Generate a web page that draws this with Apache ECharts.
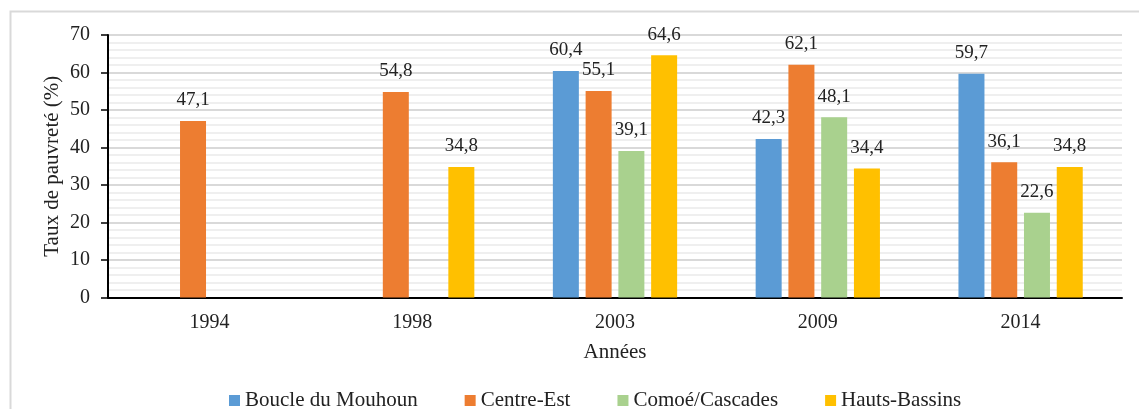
<!DOCTYPE html>
<html>
<head>
<meta charset="utf-8">
<script src="https://cdn.jsdelivr.net/npm/echarts@6/dist/echarts.min.js"></script>
<style>
  html, body { margin: 0; padding: 0; background: #fff; }
  #chart { width: 1139px; height: 409px; }
</style>
</head>
<body>
<div id="chart"></div>
<script>
// Taux de pauvreté par région (%)
const years = ['1994', '1998', '2003', '2009', '2014']
const boucleDuMouhoun = [null, null, 60.4, 42.3, 59.7]
const centreEst = [47.1, 54.8, 55.1, 62.1, 36.1]
const comoeCascades = [null, null, 39.1, 48.1, 22.6]
const hautsBassins = [null, 34.8, 64.6, 34.4, 34.8]

const font = 'Liberation Serif'
const textColor = '#222'

const fmt = (p) => p.value.toFixed(1).replace('.', ',')

const makeSeries = (name, data, color) => ({
  name: name,
  type: 'bar',
  data: data,
  barWidth: 26,
  barGap: '26%',
  itemStyle: { color: color },
  label: {
    show: true,
    position: 'top',
    distance: 11,
    formatter: fmt,
    fontFamily: font,
    fontSize: 19,
    color: textColor
  }
})

const chart = echarts.init(document.getElementById('chart'))

chart.setOption({
  animation: false,
  textStyle: { fontFamily: font },
  graphic: [
    {
      type: 'rect',
      left: 8,
      top: 9,
      shape: { width: 1160, height: 430 },
      style: { fill: 'none', stroke: '#d9d9d9', lineWidth: 2 },
      silent: true
    }
  ],
  grid: {
    left: 108,
    right: 17,
    top: 35,
    bottom: 111.5
  },
  legend: {
    left: 224,
    top: 385,
    icon: 'rect',
    itemWidth: 11,
    itemHeight: 11,
    itemGap: 47,
    textStyle: { fontFamily: font, fontSize: 21, color: textColor }
  },
  xAxis: {
    type: 'category',
    data: years,
    name: 'Années',
    nameLocation: 'middle',
    nameGap: 44,
    nameTextStyle: { fontFamily: font, fontSize: 21, color: textColor },
    axisLine: { lineStyle: { color: '#000', width: 2 } },
    axisTick: { show: false },
    axisLabel: { fontFamily: font, fontSize: 20, color: textColor, margin: 15 }
  },
  yAxis: {
    type: 'value',
    min: 0,
    max: 70,
    interval: 10,
    name: 'Taux de pauvreté (%)',
    nameLocation: 'middle',
    nameGap: 45,
    nameMoveOverlap: false,
    nameTextStyle: { fontFamily: font, fontSize: 21, color: textColor },
    axisLine: { show: true, lineStyle: { color: '#000', width: 2 } },
    axisTick: { show: true, length: 7, lineStyle: { color: '#000', width: 1.5 } },
    axisLabel: { fontFamily: font, fontSize: 20, color: textColor, margin: 18 },
    splitLine: { lineStyle: { color: '#d9d9d9', width: 2 } },
    minorTick: { show: false, splitNumber: 5 },
    minorSplitLine: { show: true, lineStyle: { color: '#efefef', width: 2 } }
  },
  series: [
    makeSeries('Boucle du Mouhoun', boucleDuMouhoun, '#5b9bd5'),
    makeSeries('Centre-Est', centreEst, '#ed7d31'),
    makeSeries('Comoé/Cascades', comoeCascades, '#a9d18e'),
    makeSeries('Hauts-Bassins', hautsBassins, '#ffc000')
  ]
})
</script>
</body>
</html>
